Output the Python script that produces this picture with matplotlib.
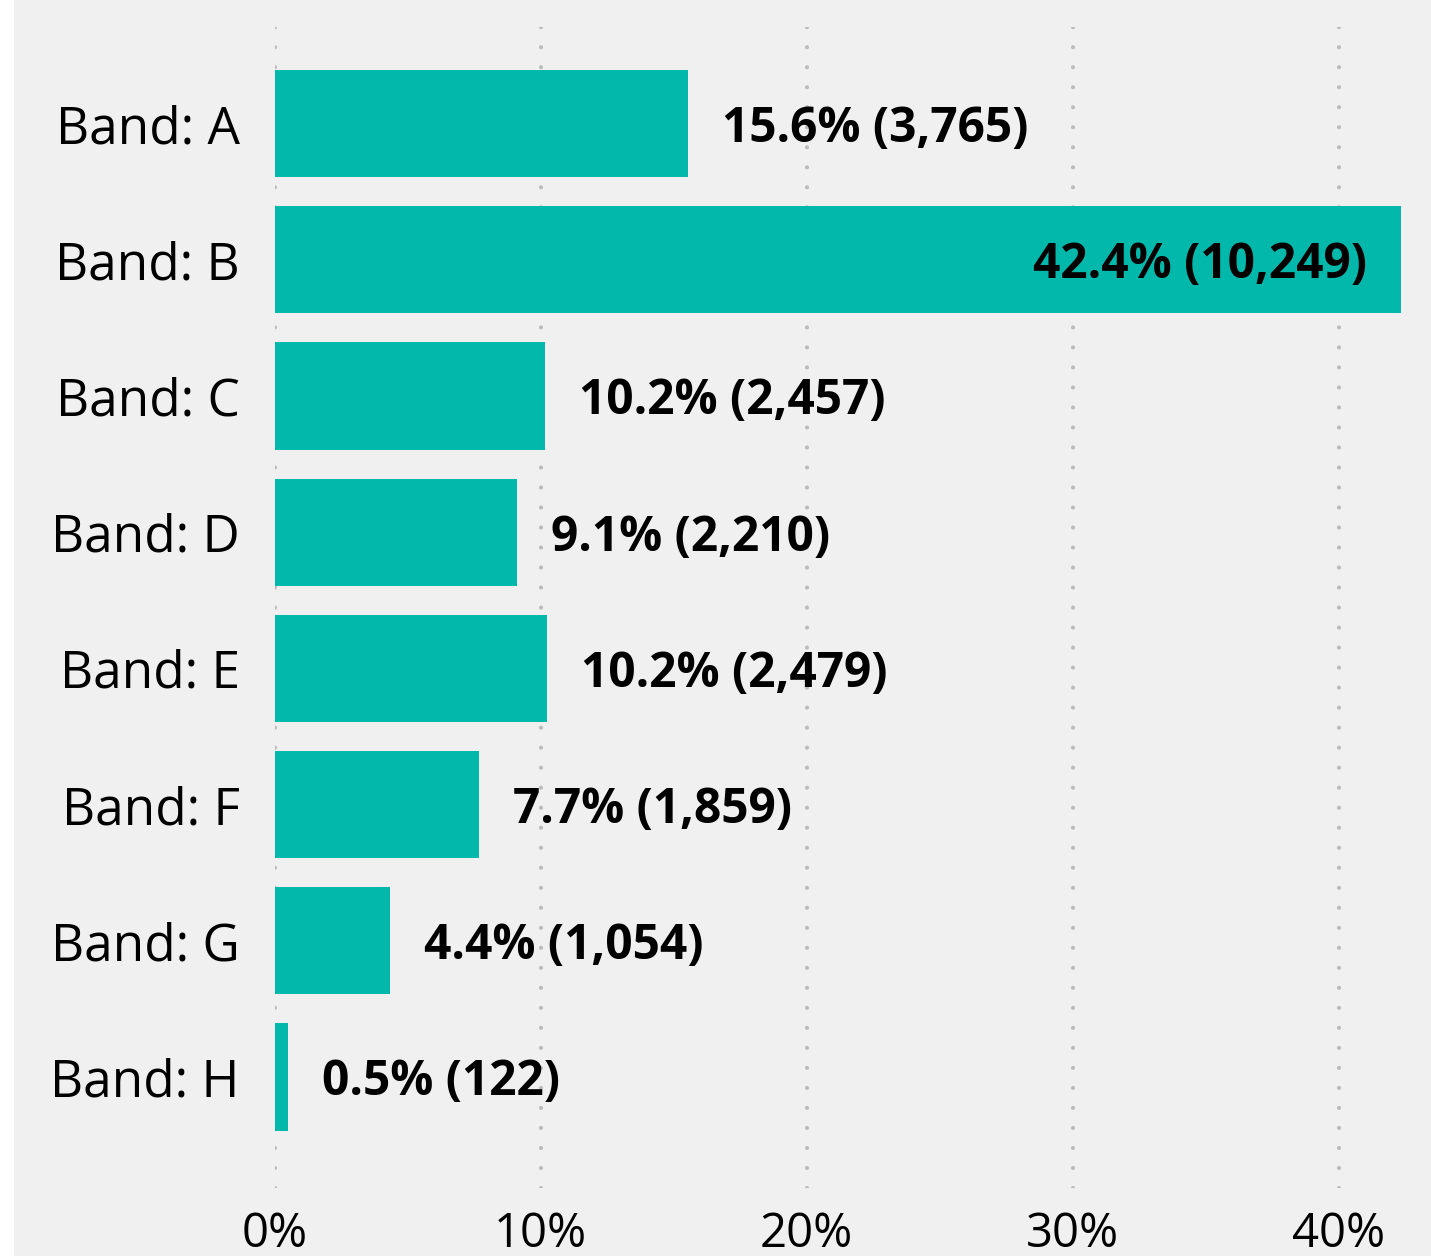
import matplotlib
matplotlib.use("Agg")
import matplotlib.pyplot as plt
from matplotlib.patches import Rectangle
from matplotlib.ticker import FuncFormatter

categories = ["Band: A", "Band: B", "Band: C", "Band: D", "Band: E", "Band: F", "Band: G", "Band: H"]
counts = [3765, 10249, 2457, 2210, 2479, 1859, 1054, 122]
xticks = [0, 10, 20, 30, 40]

total = sum(counts)
shares = [c / total * 100 for c in counts]

BG = "#f0f0f0"
BAR = "#02b8aa"
FONT = "Open Sans"

W, H = 1431, 1256
fig = plt.figure(figsize=(W / 100, H / 100), dpi=100, facecolor="white")
fig.patches.append(Rectangle((14 / W, 0), 1 - 14 / W, 1, transform=fig.transFigure,
                             facecolor=BG, edgecolor="none", zorder=-10))

left, right, top, bottom = 274.5, 1431, 27, 1188
ax = fig.add_axes([left / W, (H - bottom) / H, (right - left) / W, (bottom - top) / H])
ax.set_facecolor("none")

px_per_pct = 26.6
ax.set_xlim(0, (right - left) / px_per_pct)
ax.set_ylim(7.815, -0.709)

y = list(range(len(categories)))
ax.barh(y, shares, height=0.786, color=BAR, zorder=3)

ax.set_xticks(xticks)
ax.xaxis.set_major_formatter(FuncFormatter(lambda v, p: f"{v:.0f}%"))
ax.set_yticks(y)
ax.set_yticklabels(categories)
for s in ax.spines.values():
    s.set_visible(False)
ax.tick_params(axis="both", length=0)
ax.tick_params(axis="y", pad=25, labelsize=37)
ax.tick_params(axis="x", pad=16, labelsize=34)
for lbl in ax.get_yticklabels() + ax.get_xticklabels():
    lbl.set_fontfamily(FONT)

matplotlib.rcParams["lines.scale_dashes"] = False
ax.set_axisbelow(True)
ax.xaxis.grid(True, color="#bbbbbb", linewidth=3.0, linestyle=(0, (0.01, 14.4)),
              dash_capstyle="round")
ax.yaxis.grid(False)

offset_pct = 34 / px_per_pct
xmax = ax.get_xlim()[1]
for yi, s, c in zip(y, shares, counts):
    txt = f"{s:.1f}% ({c:,})"
    if s + offset_pct + 13 > xmax:
        ax.text(s - offset_pct, yi, txt, ha="right", va="center_baseline",
                fontsize=34.5, fontweight="bold", family=FONT, zorder=5)
    else:
        ax.text(s + offset_pct, yi, txt, ha="left", va="center_baseline",
                fontsize=34.5, fontweight="bold", family=FONT, zorder=5)

fig.savefig("out.png", dpi=100, facecolor="white")
